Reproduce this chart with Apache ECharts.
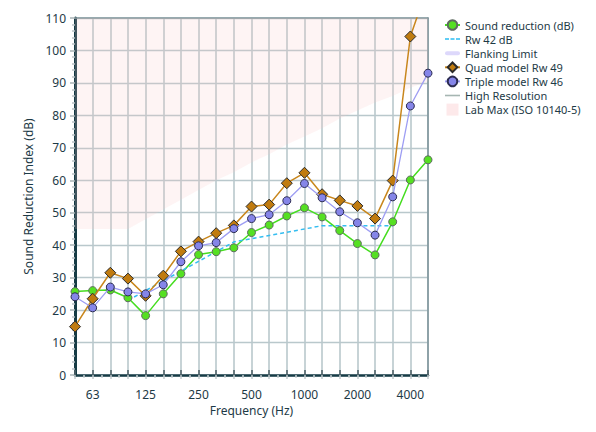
<!DOCTYPE html>
<html>
<head>
<meta charset="utf-8">
<script src="https://cdn.jsdelivr.net/npm/echarts@6/dist/echarts.min.js"></script>
<style>
html,body{margin:0;padding:0;background:#fff;}
#chart{width:596px;height:432px;}
</style>
</head>
<body>
<div id="chart"></div>
<script>
// Third-octave bands (Hz), one point per band
const bands = [50,63,80,100,125,160,200,250,315,400,500,630,800,1000,1250,1600,2000,2500,3150,4000,5000];
const tickLabels = ['63','125','250','500','1000','2000','4000'];
const soundReduction = [25.7,26.0,26.2,23.8,18.3,25.0,31.2,37.1,38.0,39.2,43.9,46.2,49.0,51.5,48.7,44.5,40.5,37.0,47.2,60.1,66.3];
const rw42 = [null,null,null,23,26,29,32,35,38,41,42,43,44,45,46,46,46,46,46,null,null];
const flankingLimit = [];
const quadModel = [14.9,23.5,31.5,29.7,24.4,30.6,38.1,41.1,43.7,46.1,51.9,52.5,59.1,62.3,55.7,53.8,52.1,48.2,59.9,104.3,120];
const tripleModel = [24.1,20.7,27.1,25.6,25.0,27.8,34.9,39.8,40.8,45.1,48.2,49.4,53.7,59.0,54.6,50.3,46.9,43.1,54.9,82.9,93.0];
const highResolution = [];
const labMax = [45,45,45,45,48,51,54,57,60,62.5,65.5,68,71,73.5,76,79,81.5,84,86,88.5,90.5];

function pairs(arr){
  const out = [];
  arr.forEach((v,i)=>{ if (v !== null && v !== undefined) out.push([i, v]); });
  return out;
}

const FONT = 'Noto Sans';
const TXT = '#1d3a46';
const FRAME = '#7b9299';
const GRIDC = '#b9c8cc';
const xMax = bands.length - 1;

const chart = echarts.init(document.getElementById('chart'), null, {renderer:'svg'});
chart.setOption({
  animation:false,
  textStyle:{fontFamily:FONT},
  grid:{left:75, right:168, top:18, bottom:57},
  legend:{
    orient:'vertical', left:439, top:14, itemWidth:15, itemHeight:12, itemGap:2.1,
    textStyle:{fontFamily:FONT, fontSize:11, lineHeight:12, color:TXT},
    data:[
      {name:'Sound reduction (dB)'},
      {name:'Rw 42 dB', icon:'path://M0,0H4V2H0Z M5.5,0H9.5V2H5.5Z M11,0H15V2H11Z', itemStyle:{color:'#5fcdf5'}},
      {name:'Flanking Limit', icon:'path://M2,0H13A2,2 0 0 1 13,4H2A2,2 0 0 1 2,0Z', itemStyle:{color:'#ddd8fb'}},
      {name:'Quad model Rw 49'},
      {name:'Triple model Rw 46'},
      {name:'High Resolution', icon:'path://M0,0H15V1.6H0Z', itemStyle:{color:'#a6b6b2'}},
      {name:'Lab Max (ISO 10140-5)', icon:'path://M0,0H10V10H0Z', itemStyle:{color:'#fde9ea'}}
    ]
  },
  xAxis:[
    {
      type:'value', min:0, max:xMax, interval:1, position:'bottom',
      name:'Frequency (Hz)', nameLocation:'middle', nameGap:26,
      nameTextStyle:{fontFamily:FONT, fontSize:12, color:TXT},
      axisLine:{show:true, onZero:false, lineStyle:{color:'#163b45', width:2.5}},
      axisTick:{show:true, length:4, lineStyle:{color:'#c3cbce', width:1.5}},
      minorTick:{show:true, splitNumber:2, length:3, lineStyle:{color:'#c8d0d3', width:1.5}},
      axisLabel:{margin:13, fontFamily:FONT, fontSize:12, color:TXT,
        formatter:function(v){ const f = String(bands[Math.round(v)]); return tickLabels.indexOf(f) >= 0 ? f : ''; }},
      splitLine:{show:true, lineStyle:{color:GRIDC, width:1.6}}
    },
    {
      type:'value', min:0, max:xMax, interval:1, position:'bottom', offset:0,
      axisLine:{show:false},
      axisTick:{show:true, inside:true, length:5, lineStyle:{color:'#52646a', width:1.6}},
      axisLabel:{show:false},
      splitLine:{show:false}
    },
    {
      type:'value', min:0, max:xMax, interval:1, position:'top',
      axisLine:{show:true, onZero:false, lineStyle:{color:FRAME, width:1.5}},
      axisTick:{show:false}, axisLabel:{show:false}, splitLine:{show:false}
    }
  ],
  yAxis:[
    {
      type:'value', min:0, max:110, interval:10, position:'left',
      name:'Sound Reduction Index (dB)', nameLocation:'middle', nameGap:28,
      nameTextStyle:{fontFamily:FONT, fontSize:12, color:TXT},
      axisLine:{show:true, onZero:false, lineStyle:{color:'#163b45', width:3}},
      axisTick:{show:true, length:5, lineStyle:{color:'#a9b3b6', width:1.5}},
      minorTick:{show:true, splitNumber:5, length:3, lineStyle:{color:'#b9c1c4', width:1.5}},
      axisLabel:{margin:9, fontFamily:FONT, fontSize:12, color:TXT},
      splitLine:{show:true, lineStyle:{color:GRIDC, width:1.4}}
    },
    {
      type:'value', min:0, max:110, interval:10, position:'right',
      axisLine:{show:true, onZero:false, lineStyle:{color:FRAME, width:1.5}},
      axisTick:{show:false}, axisLabel:{show:false}, splitLine:{show:false}
    }
  ],
  series:[
    {
      name:'Lab Max (ISO 10140-5)', type:'line', data:pairs(labMax), symbol:'none',
      lineStyle:{width:0, opacity:0}, itemStyle:{color:'#fde9ea'},
      areaStyle:{origin:'end', color:'rgba(250,195,198,0.27)'}, z:1, silent:true
    },
    {
      name:'Sound reduction (dB)', type:'line', data:pairs(soundReduction),
      symbol:'circle', symbolSize:8,
      lineStyle:{color:'#45dd1f', width:1.5},
      itemStyle:{color:'#55e022', borderColor:'#5e6a60', borderWidth:1}, z:3
    },
    {
      name:'Rw 42 dB', type:'line', data:pairs(rw42), symbol:'none',
      lineStyle:{color:'#34bdf0', width:1.5, type:[4,3]}, itemStyle:{color:'#34bdf0'}, z:3
    },
    {
      name:'Flanking Limit', type:'line', data:pairs(flankingLimit), symbol:'none',
      lineStyle:{color:'#ddd8fb', width:4}, itemStyle:{color:'#ddd8fb'}
    },
    {
      name:'Quad model Rw 49', type:'line', data:pairs(quadModel),
      symbol:'diamond', symbolSize:11,
      lineStyle:{color:'#c8861c', width:1.5},
      itemStyle:{color:'#c07b0f', borderColor:'#2a2a2a', borderWidth:1}, z:4
    },
    {
      name:'Triple model Rw 46', type:'line', data:pairs(tripleModel),
      symbol:'circle', symbolSize:8,
      lineStyle:{color:'#9d9df3', width:1.3},
      itemStyle:{color:'#8585e8', borderColor:'#2c2c50', borderWidth:1}, z:5
    },
    {
      name:'High Resolution', type:'line', data:pairs(highResolution), symbol:'none',
      lineStyle:{color:'#a6b6b2', width:2}, itemStyle:{color:'#a6b6b2'}
    }
  ]
});
</script>
</body>
</html>
